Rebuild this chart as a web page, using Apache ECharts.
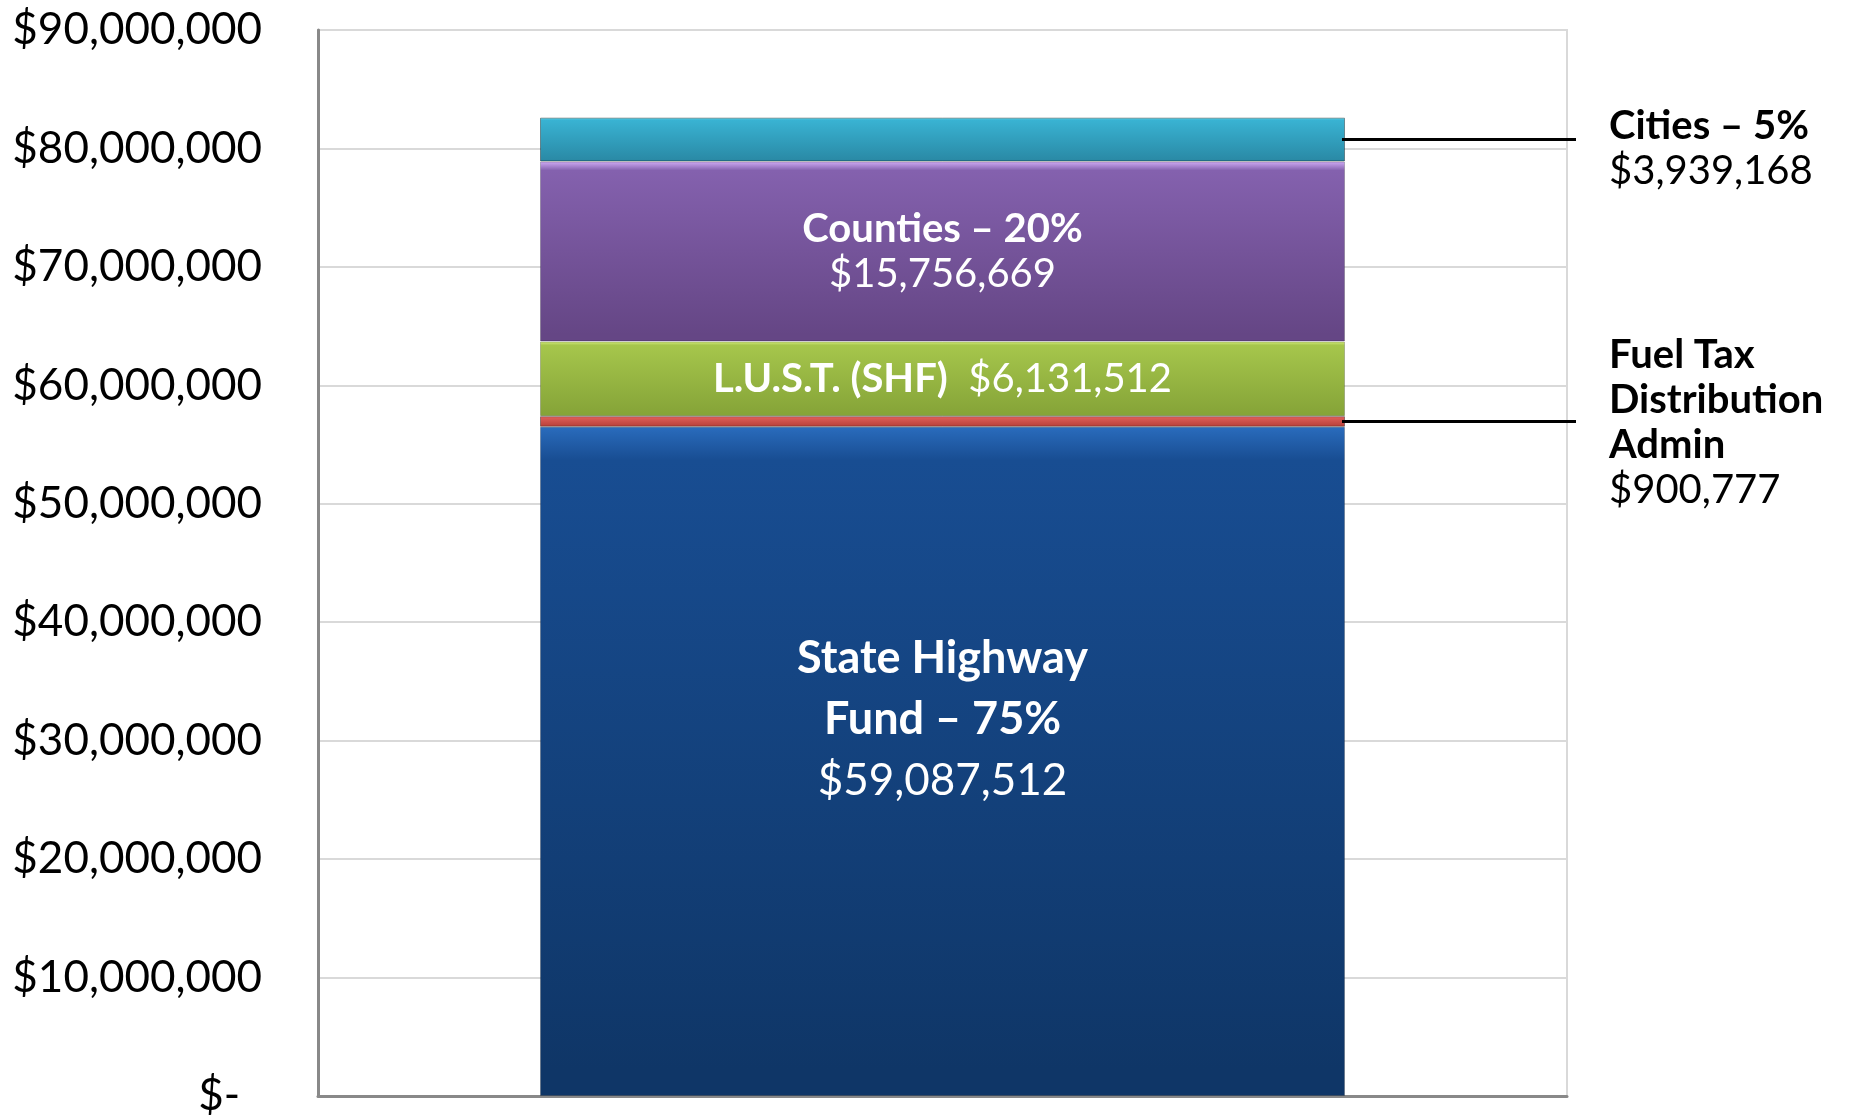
<!DOCTYPE html>
<html lang="en">

<head>
    <meta http-equiv="content-type" content="txt/html; charset=utf-8"/>
    <title>Fuel Tax Distribution</title>
    <script src="https://cdn.jsdelivr.net/npm/echarts@6.0.0/dist/echarts.min.js"></script>
    <style>
        html, body {
            height: 100%;
            margin: 0;
            background: #fff;
        }

        .chart {
            width: 1849px;
            height: 1118px;
        }
    </style>
</head>

<body>
<div class="chart"></div>
<script>
    // data
    const categories = ["Distribution"];
    const segmentNames = ["State Highway Fund", "Fuel Tax Distribution Admin", "L.U.S.T. (SHF)", "Counties", "Cities"];
    // bar heights as drawn (bottom to top)
    const segmentValues = [56500000, 900000, 6300000, 15200000, 3700000];
    const segmentTitles = ["State Highway\nFund – 75%", "Fuel Tax\nDistribution\nAdmin", "L.U.S.T. (SHF)", "Counties – 20%", "Cities – 5%"];
    const segmentAmounts = ["$59,087,512", "$900,777", "$6,131,512", "$15,756,669", "$3,939,168"];
    const yMin = 0;
    const yMax = 90000000;
    const yStep = 10000000;

    const FONT = "Lato";
    const barWidth = 805;
    const gridBox = {left: 318, top: 30, right: 282, bottom: 22};

    const colors = [
        ["#2a6cbd", "#184d92", "#0f3667"],
        ["#f59a94", "#e0605a", "#b8403a"],
        ["#d6ee80", "#a6c64c", "#86a438"],
        ["#d0acf6", "#8461ae", "#654685"],
        ["#78ecfc", "#39b3d3", "#2a8aa6"]
    ];

    function grad(c) {
        return new echarts.graphic.LinearGradient(0, 0, 0, 1, [
            {offset: 0, color: c[0]},
            {offset: 0.05, color: c[1]},
            {offset: 0.96, color: c[2]},
            {offset: 1, color: c[2]}
        ]);
    }

    function money(v) {
        return "$" + v.toLocaleString("en-US");
    }

    const insideLabels = {
        0: {
            show: true, position: "inside", offset: [0, -42],
            formatter: "{t|State Highway}\n{t|Fund – 75%}\n{v|" + segmentAmounts[0] + "}",
            rich: {
                t: {fontFamily: FONT, fontWeight: "bold", fontSize: 45, lineHeight: 61, color: "#fff"},
                v: {fontFamily: FONT, fontSize: 44, lineHeight: 61, color: "#fff"}
            }
        },
        2: {
            show: true, position: "inside",
            formatter: "{t|" + segmentTitles[2] + "}{v|  " + segmentAmounts[2] + "}",
            rich: {
                t: {fontFamily: FONT, fontWeight: "bold", fontSize: 40, color: "#fff"},
                v: {fontFamily: FONT, fontSize: 40, color: "#fff"}
            }
        },
        3: {
            show: true, position: "inside",
            formatter: "{t|" + segmentTitles[3] + "}\n{v|" + segmentAmounts[3] + "}",
            rich: {
                t: {fontFamily: FONT, fontWeight: "bold", fontSize: 40, lineHeight: 45, color: "#fff"},
                v: {fontFamily: FONT, fontSize: 40, lineHeight: 45, color: "#fff"}
            }
        }
    };

    const series = segmentValues.map((v, i) => ({
        name: segmentNames[i],
        type: "bar",
        stack: "total",
        barWidth: barWidth,
        data: [v],
        itemStyle: {
            color: grad(colors[i]),
            borderColor: "rgba(0,0,0,0.2)",
            borderWidth: 1
        },
        label: insideLabels[i] || {show: false},
        silent: true,
        animation: false
    }));

    const chart = echarts.init(document.querySelector(".chart"));
    chart.setOption({
        animation: false,
        grid: Object.assign({
            show: true,
            borderColor: "#d9d9d9",
            borderWidth: 2,
            containLabel: false
        }, gridBox),
        xAxis: {
            type: "category",
            data: categories,
            axisLine: {show: true, lineStyle: {color: "#898989", width: 3}},
            axisTick: {show: false},
            axisLabel: {show: false}
        },
        yAxis: {
            type: "value",
            min: yMin,
            max: yMax,
            interval: yStep,
            axisLine: {show: true, lineStyle: {color: "#898989", width: 3}},
            axisTick: {show: false},
            splitLine: {lineStyle: {color: "#d9d9d9", width: 2}},
            axisLabel: {
                margin: 56,
                fontFamily: FONT,
                fontSize: 44,
                color: "#000",
                formatter: v => v === 0 ? "{z|$-}" : money(v),
                rich: {
                    z: {fontFamily: FONT, fontSize: 44, color: "#000", padding: [0, 22, 0, 0]}
                }
            }
        },
        series: series
    });

    // callouts to the right of the bar for the thin segments
    const callouts = [
        {index: 4, textShift: -36},
        {index: 1, textShift: -89}
    ];

    function cumulative(i) {
        let s = 0;
        for (let k = 0; k < i; k++) s += segmentValues[k];
        return s + segmentValues[i] / 2;
    }

    const barCenter = chart.convertToPixel({xAxisIndex: 0}, categories[0]);
    const gridRight = 1849 - gridBox.right;
    const elements = [];
    callouts.forEach(c => {
        const y = chart.convertToPixel({yAxisIndex: 0}, cumulative(c.index));
        elements.push({
            type: "line",
            shape: {x1: barCenter + barWidth / 2 - 3, y1: y, x2: gridRight + 9, y2: y},
            style: {stroke: "#000", lineWidth: 3},
            z: 10
        });
        const titleLines = segmentTitles[c.index].split("\n").map(t => "{t|" + t + "}");
        elements.push({
            type: "text",
            x: gridRight + 42,
            y: y + c.textShift,
            style: {
                text: titleLines.join("\n") + "\n{v|" + segmentAmounts[c.index] + "}",
                verticalAlign: "top",
                rich: {
                    t: {fontFamily: FONT, fontWeight: "bold", fontSize: 40, lineHeight: 45, fill: "#000"},
                    v: {fontFamily: FONT, fontSize: 40, lineHeight: 45, fill: "#000"}
                }
            },
            z: 10
        });
    });
    chart.setOption({graphic: {elements: elements}});
</script>
</body>

</html>
